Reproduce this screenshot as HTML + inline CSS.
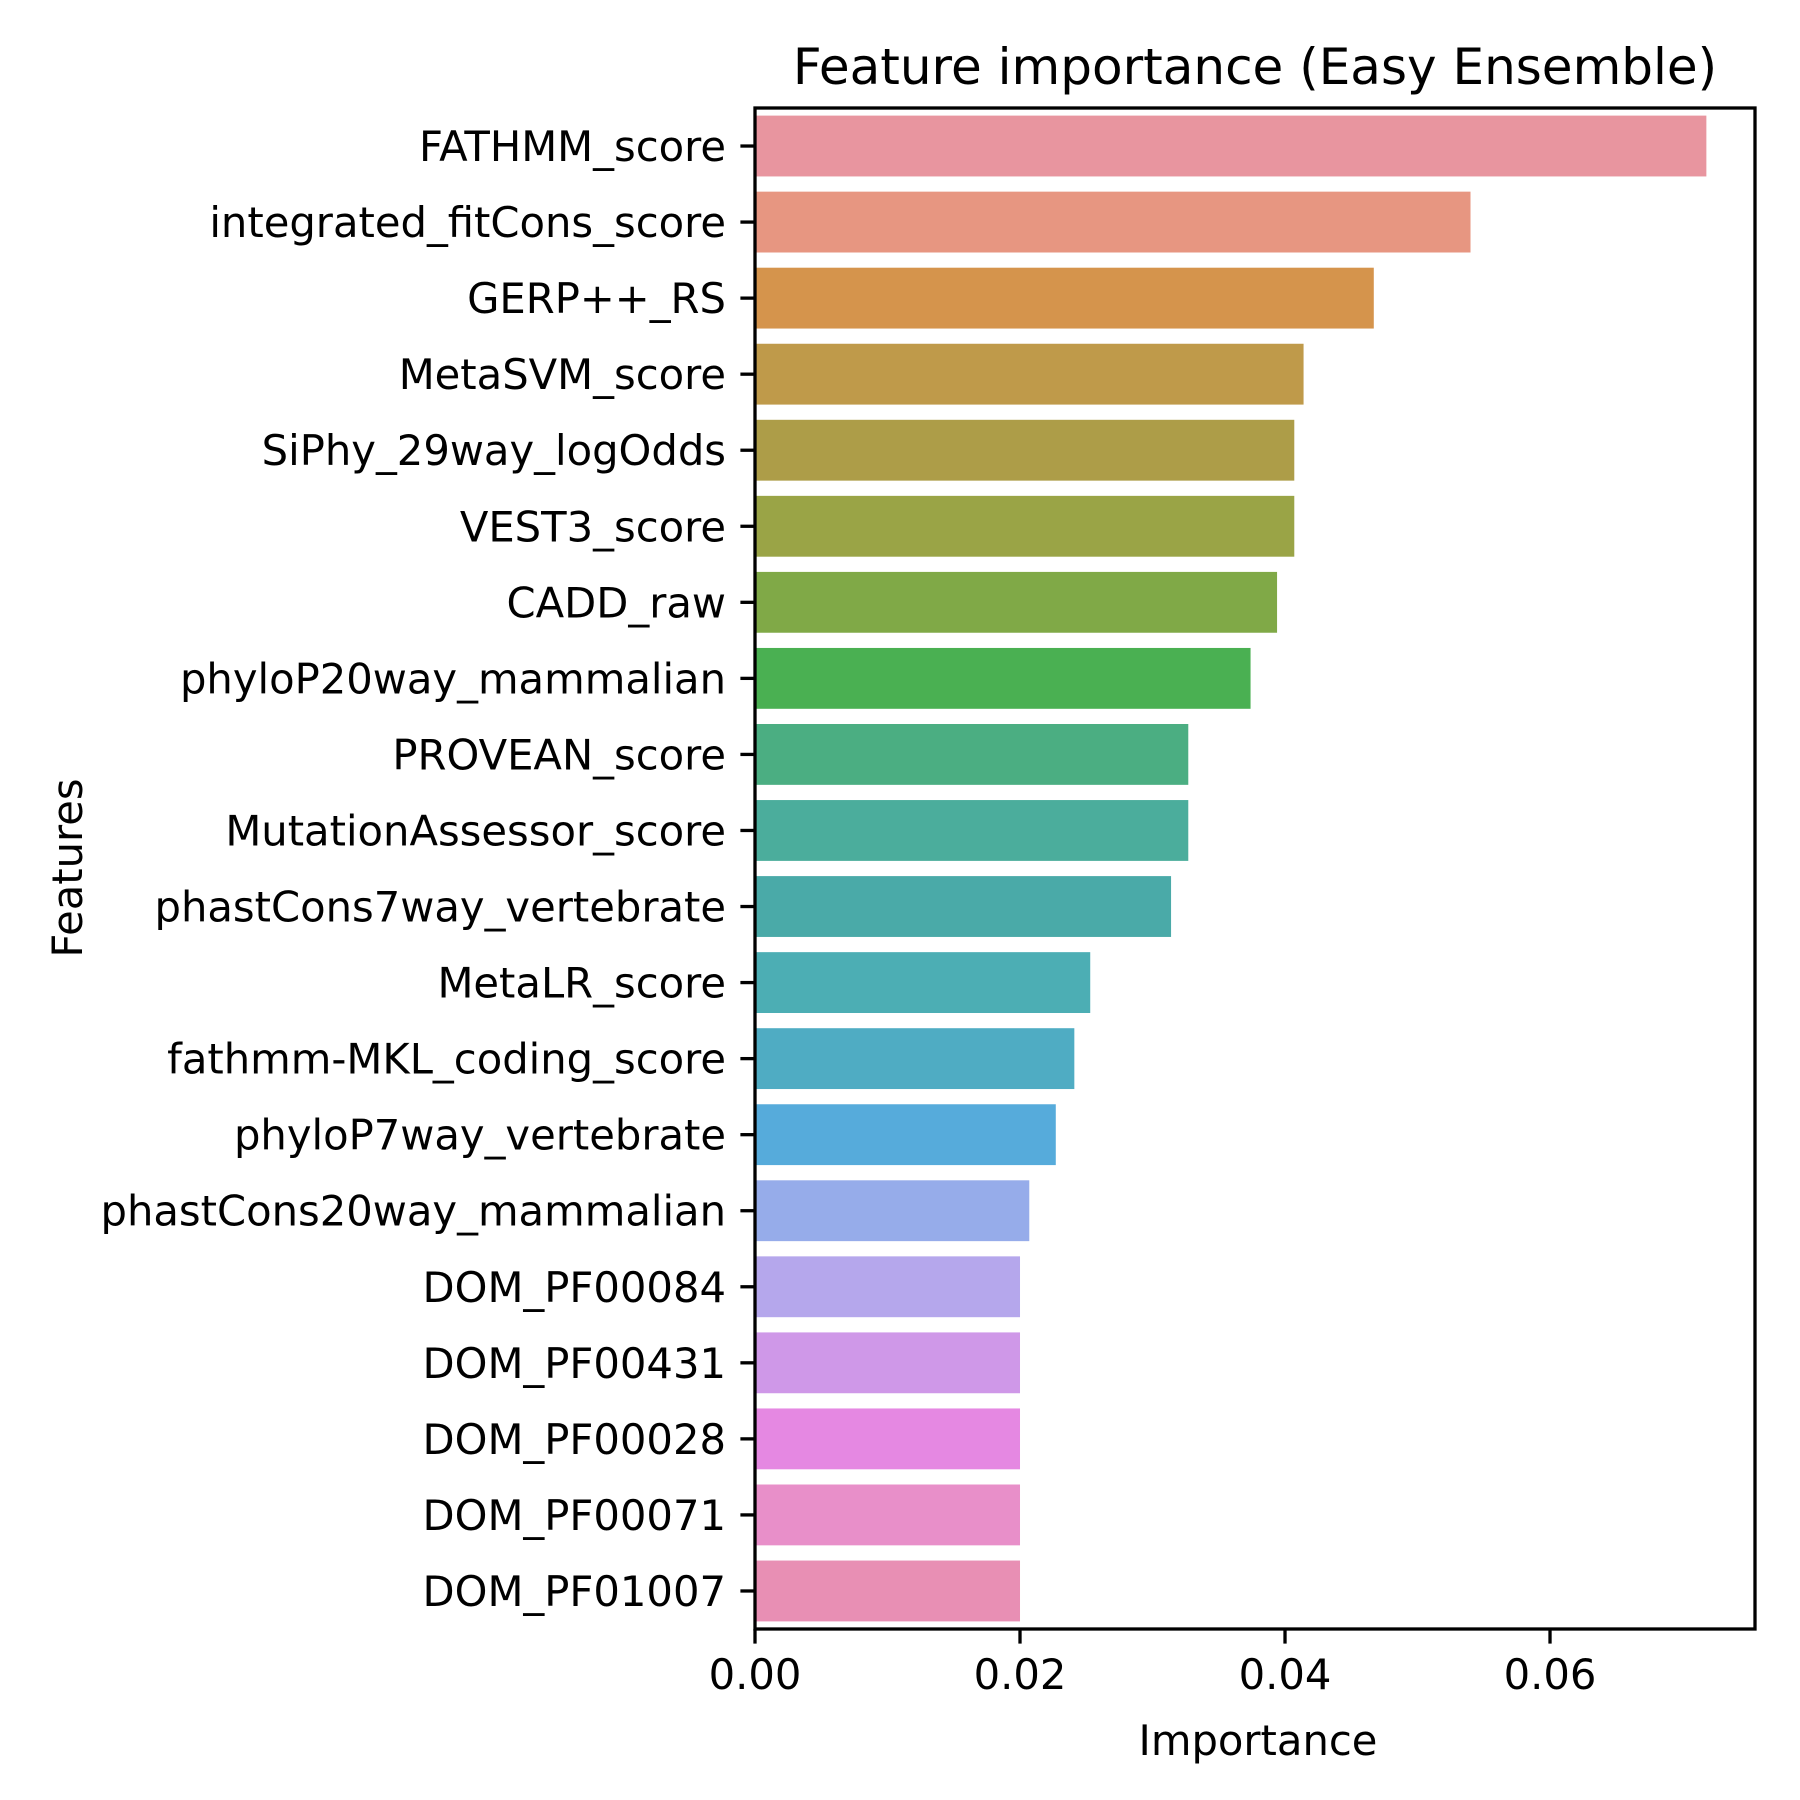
<!DOCTYPE html>
<html><head><meta charset="utf-8"><style>
html,body{margin:0;padding:0;background:#fff}
svg{display:block;font-family:"DejaVu Sans","Liberation Sans",sans-serif}
</style></head><body>
<svg id="chart" width="1800" height="1800" viewBox="0 0 1800 1800" xmlns="http://www.w3.org/2000/svg">
<rect width="1800" height="1800" fill="#fff"/>
<text x="1255" y="84" font-size="50" text-anchor="middle">Feature importance (Easy Ensemble)</text>
<g id="bars"></g>
<g id="yticks"></g>
<g id="xticks"></g>
<rect x="755" y="108" width="1000" height="1521" fill="none" stroke="#000" stroke-width="3.3"/>
<text x="1258" y="1755" font-size="41.7" text-anchor="middle">Importance</text>
<text x="0" y="0" font-size="41.7" text-anchor="middle" transform="translate(82,868) rotate(-90)">Features</text>
</svg>
<script>
const categories = ["FATHMM_score","integrated_fitCons_score","GERP++_RS","MetaSVM_score","SiPhy_29way_logOdds","VEST3_score","CADD_raw","phyloP20way_mammalian","PROVEAN_score","MutationAssessor_score","phastCons7way_vertebrate","MetaLR_score","fathmm-MKL_coding_score","phyloP7way_vertebrate","phastCons20way_mammalian","DOM_PF00084","DOM_PF00431","DOM_PF00028","DOM_PF00071","DOM_PF01007"];
const importance = [0.0718,0.0540,0.0467,0.0414,0.0407,0.0407,0.0394,0.0374,0.0327,0.0327,0.0314,0.0253,0.0241,0.0227,0.0207,0.0200,0.0200,0.0200,0.0200,0.0200];
const colors = ["#e8959f","#e79681","#d5944c","#bf9a4a","#ad9d48","#9aa446","#80a947","#4ab052","#4bae82","#4bad9c","#4aaaa8","#4caeb4","#4facc3","#56abdb","#96acea","#b5a7ec","#cf98e8","#e588e2","#e88fc9","#e88fb4"];
const xTicks = [0,0.02,0.04,0.06];
const xTickLabels = ["0.00","0.02","0.04","0.06"];
const NS="http://www.w3.org/2000/svg";
const L=755,R=1755,T=108,B=1629,xMax=0.07547;
function xs(v){return L+v/xMax*(R-L);}
const band=(B-T)/categories.length;
function yc(i){return T+band*(i+0.5);}
const gb=document.getElementById('bars'),gy=document.getElementById('yticks'),gx=document.getElementById('xticks');
categories.forEach((c,i)=>{
  const r=document.createElementNS(NS,'rect');
  r.setAttribute('x',xs(0));r.setAttribute('y',yc(i)-band*0.4);
  r.setAttribute('width',xs(importance[i])-xs(0));r.setAttribute('height',band*0.8);
  r.setAttribute('fill',colors[i]);
  
  
  gb.appendChild(r);
  const l=document.createElementNS(NS,'line');
  l.setAttribute('x1',L-14.6);l.setAttribute('x2',L);l.setAttribute('y1',yc(i));l.setAttribute('y2',yc(i));
  l.setAttribute('stroke','#000');l.setAttribute('stroke-width','3.3');
  
  
  gy.appendChild(l);
  const t=document.createElementNS(NS,'text');
  t.setAttribute('x',L-29);t.setAttribute('y',yc(i)+15);t.setAttribute('font-size','41.7');t.setAttribute('text-anchor','end');
  t.textContent=c;
  
  
  gy.appendChild(t);
});
xTicks.forEach((v,i)=>{
  const l=document.createElementNS(NS,'line');
  l.setAttribute('x1',xs(v));l.setAttribute('x2',xs(v));l.setAttribute('y1',B);l.setAttribute('y2',B+14.6);
  l.setAttribute('stroke','#000');l.setAttribute('stroke-width','3.3');
  
  
  gx.appendChild(l);
  const t=document.createElementNS(NS,'text');
  t.setAttribute('x',xs(v));t.setAttribute('y',B+60);t.setAttribute('font-size','41.7');t.setAttribute('text-anchor','middle');
  t.textContent=xTickLabels[i];
  
  
  gx.appendChild(t);
});
</script>
</body></html>
